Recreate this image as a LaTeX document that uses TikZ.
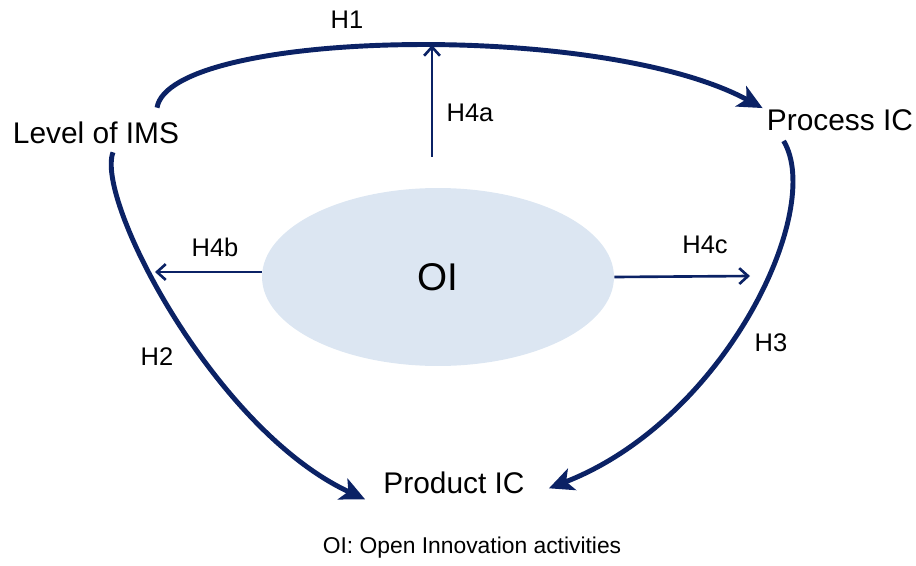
\documentclass[tikz,border=0pt]{standalone}
\usepackage{fontspec}
\setmainfont{Liberation Sans}
\usetikzlibrary{arrows.meta,calc,shapes.geometric}
\definecolor{navy}{HTML}{0B2265}
\definecolor{oifill}{HTML}{DCE6F2}

\begin{document}
\begin{tikzpicture}[x=0.02cm, y=-0.02cm,
  effect/.style={draw=navy, line width=2.8pt, -{Stealth[length=14pt, width=13pt, inset=3.5pt]}},
  link/.style={draw=navy, line width=1.5pt, -{Straight Barb[length=5pt, width=9pt]}},
  factor/.style={font=\fontsize{17}{20}\selectfont, inner sep=0pt},
  hyp/.style={font=\fontsize{14.5}{17}\selectfont, inner sep=0pt}]
  \useasboundingbox (0,0) rectangle (916,565);
  % open innovation core
  \node[ellipse, fill=oifill, inner sep=0pt, minimum width=7.04cm, minimum height=3.56cm,
    font=\fontsize{22}{26}\selectfont] (oi) at (438,277) {OI};
  \node[factor] (ims) at (96,133) {Level of IMS};
  \node[factor] (proc) at (840,120) {Process IC};
  \node[factor] (prod) at (454,483) {Product IC};
  % main hypotheses
  \draw[effect] ($(ims.north)+(61,-14)$) .. controls (170,30) and (600,20) .. ($(proc.north west)+(-4,-1)$);
  \draw[effect] ($(ims.south)+(17,8)$) .. controls (95,200) and (215,430) .. ($(prod.south west)+(-18,5)$);
  \draw[effect] ($(proc.south west)+(17,10)$) .. controls (825,210) and (725,420) .. ($(prod.south east)+(24,-6)$);
  % moderating effects of OI
  \coordinate (h1top) at (432,45);
  \coordinate (h2hit) at (155,272);
  \coordinate (h3hit) at (750,276);
  \draw[link] ($(oi.north)+(-6,-31)$) -- (h1top);
  \draw[link] ($(oi.west)+(0,-5)$) -- (h2hit);
  \draw[link] (oi.east) -- (h3hit);
  \node[hyp] (lh1) at (347,20) {H1};
  \node[hyp] (lh2) at (157,357) {H2};
  \node[hyp] (lh3) at (771,343) {H3};
  \node[hyp] (lh4a) at (470,113) {H4a};
  \node[hyp] (lh4b) at (215,247) {H4b};
  \node[hyp] (lh4c) at (705,245) {H4c};
  \node[font=\fontsize{13}{16}\selectfont] (note) at (472,548) {OI: Open Innovation activities};
\end{tikzpicture}
\end{document}
